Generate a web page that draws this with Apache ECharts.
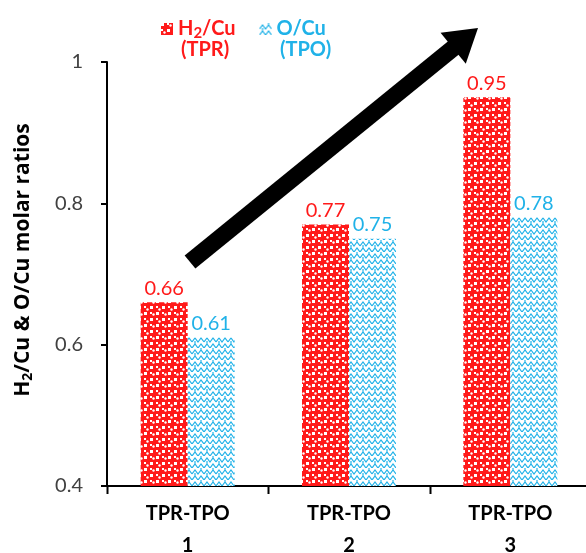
<!DOCTYPE html>
<html>
<head>
<meta charset="utf-8">
<script src="https://cdn.jsdelivr.net/npm/echarts@6/dist/echarts.min.js"></script>
<style>
  html, body { margin: 0; padding: 0; background: #fff; }
  #chart { width: 586px; height: 553px; }
</style>
</head>
<body>
<div id="chart"></div>
<script>
const categories = ["TPR-TPO\n1", "TPR-TPO\n2", "TPR-TPO\n3"];
const h2Cu = [0.66, 0.77, 0.95];
const oCu = [0.61, 0.75, 0.78];
const yTicks = [0.4, 0.6, 0.8, 1];

const RED = "#ff1a1a";
const BLUE = "#20b2e8";
const FONT = "Lato";

// red checker / dots fill
function redPattern() {
    const c = document.createElement("canvas");
    c.width = 12;
    c.height = 12;
    const g = c.getContext("2d");
    g.fillStyle = RED;
    g.fillRect(0, 0, 12, 12);
    g.fillStyle = "#fff";
    g.fillRect(0, 0, 3, 3);
    g.fillRect(6, 6, 3, 3);
    g.fillRect(0, 6, 2, 2);
    g.fillRect(6, 0, 2, 2);
    g.beginPath();
    g.arc(9.5, 2.5, 1.2, 0, Math.PI * 2);
    g.fill();
    g.beginPath();
    g.arc(3.5, 9.5, 1.2, 0, Math.PI * 2);
    g.fill();
    return c;
}

// blue weave on white
function bluePattern() {
    const c = document.createElement("canvas");
    c.width = 12;
    c.height = 12;
    const g = c.getContext("2d");
    g.fillStyle = "#fff";
    g.fillRect(0, 0, 12, 12);
    g.strokeStyle = BLUE;
    g.lineWidth = 1.2;
    g.beginPath();
    g.moveTo(0, 6); g.lineTo(3, 2); g.lineTo(6, 6); g.lineTo(9, 2); g.lineTo(12, 6);
    g.moveTo(0, 12); g.lineTo(3, 8); g.lineTo(6, 12);
    g.moveTo(6, 12); g.lineTo(9, 8); g.lineTo(12, 12);
    g.moveTo(3, 8); g.lineTo(3, 5);
    g.moveTo(9, 2); g.lineTo(9, 0);
    g.stroke();
    return c;
}

const chart = echarts.init(document.getElementById("chart"));

function arrow(x0, y0, x1, y1) {
    const dx = x1 - x0, dy = y1 - y0;
    const len = Math.sqrt(dx * dx + dy * dy);
    const ux = dx / len, uy = dy / len;
    const nx = -uy, ny = ux;
    const headLen = 32, headHalf = 20;
    const bx = x1 - ux * headLen, by = y1 - uy * headLen;
    return [
        {
            type: "line",
            shape: { x1: x0, y1: y0, x2: bx + ux * 2, y2: by + uy * 2 },
            style: { stroke: "#000", lineWidth: 17, lineCap: "butt" },
        },
        {
            type: "polygon",
            shape: {
                points: [
                    [x1, y1],
                    [bx + nx * headHalf, by + ny * headHalf],
                    [bx - nx * headHalf, by - ny * headHalf],
                ],
            },
            style: { fill: "#000" },
        },
    ];
}

// second legend lines
const legendSub = [
    { type: "text", left: 181, top: 40, style: { text: "(TPR)", fill: RED, font: "bold 20px " + FONT } },
    { type: "text", left: 280, top: 40, style: { text: "(TPO)", fill: BLUE, font: "bold 20px " + FONT } },
];

const legendRich = {
    r: { color: RED, fontFamily: FONT, fontWeight: "bold", fontSize: 20 },
    rs: { color: RED, fontFamily: FONT, fontWeight: "bold", fontSize: 15, padding: [9, 0, 0, 0] },
    b: { color: BLUE, fontFamily: FONT, fontWeight: "bold", fontSize: 20 },
};

chart.setOption({
    animation: false,
    backgroundColor: "#fff",
    textStyle: { fontFamily: FONT },
    legend: {
        top: 14,
        left: 156,
        itemGap: 24,
        itemWidth: 12,
        itemHeight: 12,
        data: [
            { name: "H2/Cu", icon: "rect" },
            { name: "O/Cu", icon: "rect" },
        ],
        formatter: (name) => (name === "H2/Cu" ? "{r|H}{rs|2}{r|/Cu}" : "{b|O/Cu}"),
        textStyle: { rich: legendRich },
    },
    grid: { left: 107, right: -5, top: 62, bottom: 67, outerBoundsMode: "none", containLabel: false },
    xAxis: {
        type: "category",
        data: categories,
        axisLine: { onZero: false, lineStyle: { color: "#000", width: 2 } },
        axisTick: { show: false },
        axisLabel: {
            color: "#000",
            fontFamily: FONT,
            fontWeight: "bold",
            fontSize: 20,
            lineHeight: 32,
            margin: 12,
        },
    },
    yAxis: {
        type: "value",
        min: 0.4,
        max: 1,
        interval: 0.2,
        splitLine: { show: false },
        axisLine: { show: true, lineStyle: { color: "#000", width: 2 } },
        axisTick: { show: true, length: 6, lineStyle: { color: "#000", width: 2 } },
        axisLabel: {
            color: "#404040",
            fontFamily: FONT,
            fontSize: 20,
            margin: 24,
            formatter: (v) => (yTicks.includes(Math.round(v * 10) / 10) ? String(Math.round(v * 10) / 10) : ""),
        },
        name: "{t|H}{s|2}{t|/Cu & O/Cu molar ratios}",
        nameLocation: "middle",
        nameGap: 72,
        nameTextStyle: {
            padding: [0, 0, 0, 28],
            rich: {
                t: { color: "#000", fontFamily: "Open Sans", fontWeight: "bold", fontSize: 21 },
                s: { color: "#000", fontFamily: "Open Sans", fontWeight: "bold", fontSize: 14, padding: [9, 0, 0, 0] },
            },
        },
    },
    series: [
        {
            name: "H2/Cu",
            type: "bar",
            data: h2Cu,
            barWidth: 47,
            barGap: "0%",
            itemStyle: { color: { image: redPattern(), repeat: "repeat" } },
            label: {
                show: true,
                position: "top",
                distance: 4,
                color: RED,
                fontFamily: FONT,
                fontSize: 20,
                formatter: (p) => p.value.toFixed(2),
            },
        },
        {
            name: "O/Cu",
            type: "bar",
            data: oCu,
            barWidth: 47,
            itemStyle: { color: { image: bluePattern(), repeat: "repeat" } },
            label: {
                show: true,
                position: "top",
                distance: 4,
                color: BLUE,
                fontFamily: FONT,
                fontSize: 20,
                formatter: (p) => p.value.toFixed(2),
            },
        },
    ],
});

// category boundary ticks, placed from the axis scale
const p0 = chart.convertToPixel({ gridIndex: 0 }, [0, 0.4]);
const p1 = chart.convertToPixel({ gridIndex: 0 }, [1, 0.4]);
const band = p1[0] - p0[0];
const ticks = categories.map((_, i) => {
    const x = Math.round(p0[0] + band * (i - 0.5)) + 0.5;
    return {
        type: "line",
        z: 100,
        shape: { x1: x, y1: p0[1], x2: x, y2: p0[1] + 8 },
        style: { stroke: "#000", lineWidth: 2 },
    };
});

chart.setOption({ graphic: arrow(190, 262, 478, 28).concat(legendSub, ticks) });
</script>
</body>
</html>
